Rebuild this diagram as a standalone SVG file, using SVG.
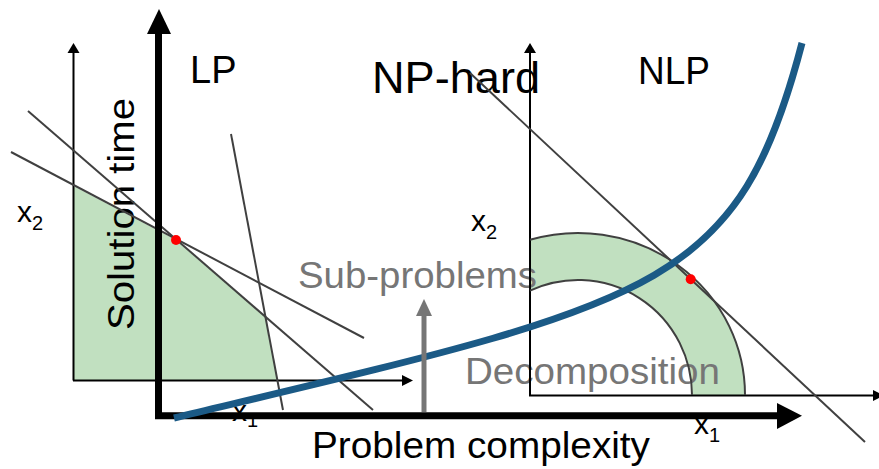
<svg xmlns="http://www.w3.org/2000/svg" width="879" height="469" viewBox="0 0 879 469">
<style>
  text { font-family: "Liberation Sans", Arial, sans-serif; }
  .blk { fill: #000000; }
  .gry { fill: #767676; }
  .region { fill: #c1e0c0; stroke: none; }
  .cons { stroke: #404040; stroke-width: 2; fill: none; }
  .thin { stroke: #000000; stroke-width: 2; fill: none; }
  .thick { stroke: #000000; stroke-width: 7; fill: none; }
  .curve { stroke: #1b5a86; stroke-width: 7; fill: none; }
  .opt { fill: #ff0000; }
</style>
<rect width="879" height="469" fill="#ffffff"/>

<g id="lp-region">
  <polygon class="region" points="73.5,186 176,240 265.5,317 277.3,380 73.5,380"/>
</g>
<g id="nlp-region">
  <path class="region" d="M530,239.8 A167,162 0 0 1 745,395 L692,395 A114,115 0 0 0 530,290.7 Z"/>
</g>

<g id="labels">
  <text class="blk" x="190" y="83" font-size="38">LP</text>
  <text class="blk" x="372" y="93" font-size="44" textLength="168" lengthAdjust="spacingAndGlyphs">NP-hard</text>
  <text class="blk" x="638" y="84" font-size="38" textLength="72" lengthAdjust="spacingAndGlyphs">NLP</text>
  <text class="blk" transform="translate(134,330) rotate(-90)" font-size="37" textLength="232" lengthAdjust="spacingAndGlyphs">Solution time</text>
  <text class="gry" x="298" y="288" font-size="37" textLength="239" lengthAdjust="spacingAndGlyphs">Sub-problems</text>
  <text class="gry" x="465" y="384" font-size="37" textLength="255" lengthAdjust="spacingAndGlyphs">Decomposition</text>
  <text class="blk" x="312" y="458" font-size="37" textLength="338" lengthAdjust="spacingAndGlyphs">Problem complexity</text>
  <text class="blk" x="17" y="222" font-size="30">x<tspan dy="8" font-size="20">2</tspan></text>
  <text class="blk" x="471" y="231" font-size="30">x<tspan dy="8" font-size="20">2</tspan></text>
  <text class="blk" x="694" y="434" font-size="30">x<tspan dy="8" font-size="20">1</tspan></text>
  <text class="blk" x="232" y="421" font-size="30">x<tspan dy="6" font-size="20">1</tspan></text>
</g>

<g id="lp-plot">
  <line class="thin" x1="73.5" y1="380.5" x2="73.5" y2="52"/>
  <polygon points="67.5,53 79.5,53 73.5,43" fill="#000"/>
  <line class="thin" x1="73" y1="380.5" x2="403" y2="380.5"/>
  <polygon points="402,375 402,386 413,380.5" fill="#000"/>
  <line class="cons" x1="11" y1="152" x2="364" y2="338"/>
  <line class="cons" x1="28" y1="111" x2="373" y2="410"/>
  <line class="cons" x1="231" y1="134" x2="283" y2="410"/>
</g>

<g id="nlp-plot">
  <line class="thin" x1="530" y1="395.5" x2="530" y2="52"/>
  <polygon points="524,53 536,53 530,43" fill="#000"/>
  <line class="thin" x1="529" y1="395.5" x2="874" y2="395.5"/>
  <polygon points="873,390 873,401 884,395.5" fill="#000"/>
  <path class="cons" d="M530,239.8 A167,162 0 0 1 745,395"/>
  <path class="cons" d="M692,395 A114,115 0 0 0 530,290.7"/>
  <line class="cons" x1="470" y1="73" x2="865" y2="442"/>
</g>

<g id="main-axes">
  <line class="thick" x1="158.5" y1="419" x2="158.5" y2="32"/>
  <polygon points="147,34 171,34 159,9" fill="#000"/>
  <line class="thick" x1="155" y1="415.7" x2="779" y2="415.7"/>
  <polygon points="777,403 777,429 802,415.7" fill="#000"/>
</g>

<g id="connectors">
  <path class="curve" d="M174,418 C654,303 737,293 802,43"/>
  <line x1="424" y1="412" x2="424" y2="314" stroke="#767676" stroke-width="5"/>
  <polygon points="416,316 432,316 424,299" fill="#767676"/>
</g>

<g id="optima">
  <circle class="opt" cx="176" cy="240" r="5"/>
  <circle class="opt" cx="690.7" cy="279.3" r="5"/>
</g>
</svg>
